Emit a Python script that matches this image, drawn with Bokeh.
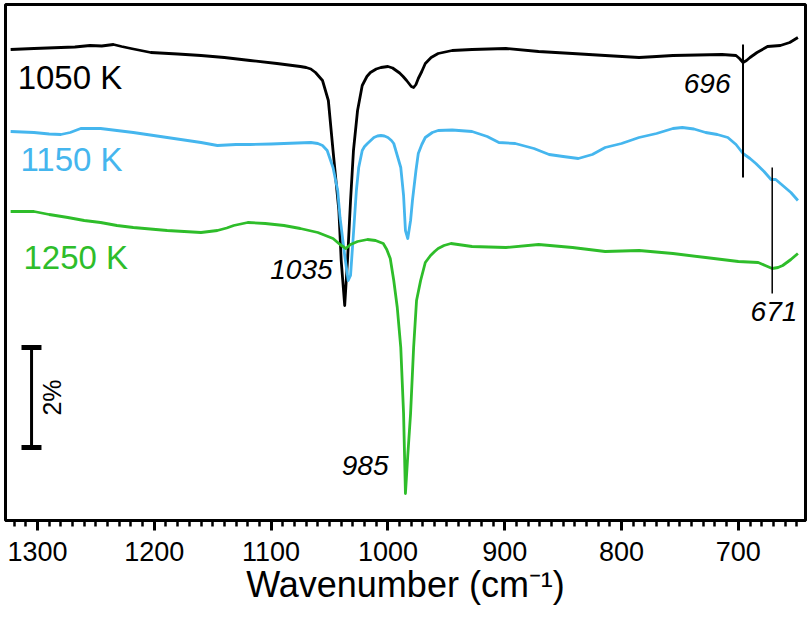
from bokeh.plotting import figure
from bokeh.models import Range1d, FixedTicker
from bokeh.core.properties import value
from bokeh.embed import file_html
from bokeh.resources import INLINE

# ---- data (offset transmittance, %) ----
wn_1050 = [1323, 1303, 1280, 1268, 1255, 1245, 1235, 1228, 1220, 1203, 1180, 1160, 1140, 1118,
           1095, 1075, 1070, 1066, 1062, 1056, 1051, 1047, 1042, 1040, 1037, 1034.6, 1032,
           1029.5, 1026, 1022, 1018, 1015, 1010, 1006, 1000, 996, 993, 990, 987, 984, 982,
           980, 978, 976, 974, 971, 968, 963, 957, 945, 928, 899, 871, 842, 814, 785, 770,
           756, 735, 714, 702, 699, 696, 693, 690, 684, 675, 664, 656, 649]
t_1050 = [9.42, 9.44, 9.46, 9.47, 9.50, 9.49, 9.52, 9.48, 9.44, 9.36, 9.33, 9.30, 9.26, 9.20,
          9.14, 9.08, 9.06, 9.03, 8.96, 8.80, 8.40, 7.40, 6.20, 5.20, 4.30, 5.20, 6.40,
          7.40, 8.20, 8.70, 8.88, 8.96, 9.03, 9.06, 9.08, 9.05, 9.00, 8.95, 8.88, 8.80, 8.74,
          8.68, 8.66, 8.72, 8.84, 8.98, 9.14, 9.26, 9.34, 9.40, 9.42, 9.44, 9.38, 9.34, 9.30,
          9.26, 9.28, 9.30, 9.31, 9.32, 9.30, 9.24, 9.16, 9.20, 9.26, 9.36, 9.48, 9.50, 9.56,
          9.66]

wn_1150 = [1323, 1303, 1290, 1280, 1272, 1263, 1246, 1232, 1218, 1189, 1160, 1146, 1130, 1118,
           1100, 1089, 1066, 1060, 1056, 1052, 1047, 1043, 1041, 1037, 1034, 1032, 1029.5,
           1027, 1025, 1022, 1020, 1017.5, 1012, 1009, 1006, 1003, 1000, 997, 995, 992, 989,
           986.6, 985, 983, 980.6, 979, 976, 974, 971, 968, 962, 957, 945, 928, 915, 905, 891,
           875, 862, 850, 837, 825, 814, 800, 785, 770, 756, 748, 738, 728, 718, 709, 702,
           696, 690, 685, 678, 672, 668, 662, 655, 649]
t_1150 = [7.78, 7.76, 7.73, 7.72, 7.76, 7.84, 7.84, 7.80, 7.76, 7.66, 7.56, 7.50, 7.52, 7.52,
          7.53, 7.54, 7.56, 7.54, 7.50, 7.40, 7.06, 6.60, 6.06, 5.30, 4.80, 4.90, 5.74,
          6.60, 7.06, 7.40, 7.48, 7.54, 7.66, 7.69, 7.70, 7.69, 7.66, 7.60, 7.54, 7.30, 7.06,
          6.50, 5.80, 5.64, 6.00, 6.40, 7.00, 7.34, 7.52, 7.66, 7.76, 7.80, 7.81, 7.78, 7.68,
          7.56, 7.54, 7.44, 7.32, 7.28, 7.24, 7.32, 7.46, 7.54, 7.66, 7.74, 7.84, 7.86, 7.83,
          7.76, 7.72, 7.66, 7.52, 7.34, 7.24, 7.14, 6.98, 6.82, 6.82, 6.70, 6.56, 6.40]

wn_1250 = [1323, 1303, 1290, 1274, 1260, 1246, 1232, 1218, 1189, 1160, 1146, 1138, 1132, 1126,
           1120, 1105, 1089, 1075, 1060, 1047, 1041, 1036, 1032, 1026, 1017.5, 1010.6, 1004,
           1001, 998, 995, 992, 989, 986.6, 985, 983, 980.6, 978, 975.5, 972, 968, 963.5, 960,
           957, 952, 946, 928, 899, 871, 842, 814, 785, 756, 728, 700, 683, 677, 671, 666,
           662, 655, 649]
t_1250 = [6.18, 6.18, 6.12, 6.06, 6.00, 5.96, 5.90, 5.86, 5.80, 5.76, 5.80, 5.85, 5.90, 5.93,
          5.96, 5.94, 5.90, 5.84, 5.76, 5.64, 5.52, 5.44, 5.52, 5.58, 5.62, 5.60, 5.54,
          5.42, 5.24, 4.80, 4.26, 3.46, 2.14, 0.54, 1.30, 2.14, 3.46, 4.40, 4.80, 5.16, 5.30,
          5.38, 5.44, 5.50, 5.54, 5.48, 5.46, 5.52, 5.46, 5.38, 5.40, 5.34, 5.26, 5.18, 5.16,
          5.10, 5.04, 5.06, 5.10, 5.22, 5.34]

series_labels = ["1050 K", "1150 K", "1250 K"]
series_colors = ["#000000", "#45B6EE", "#2EBD2A"]

peak_labels = ["1035", "985", "696", "671"]
x_ticks = [1300, 1200, 1100, 1000, 900, 800, 700]
scale_bar_pct = 2

FONT = "Liberation Sans"

p = figure(width=808, height=622, output_backend="svg", toolbar_location=None,
           x_range=Range1d(1327.4, 642.5), y_range=Range1d(0, 10.32),
           min_border_left=5, min_border_right=3, min_border_top=4, min_border_bottom=102)

p.grid.visible = False
p.yaxis.visible = False
p.outline_line_color = "black"
p.outline_line_width = 3
p.background_fill_color = "white"
p.border_fill_color = "white"

ax = p.xaxis[0]
ax.ticker = FixedTicker(ticks=x_ticks,
                        minor_ticks=list(range(1320, 640, -10)))
ax.axis_line_width = 3
ax.major_tick_line_width = 3
ax.minor_tick_line_width = 2.5
ax.major_tick_out = 10
ax.major_tick_in = 0
ax.minor_tick_out = 6
ax.minor_tick_in = 0
ax.major_label_text_font = FONT
ax.major_label_text_font_size = "27px"
ax.major_label_text_color = "black"
ax.major_label_standoff = 11
ax.axis_label = "Wavenumber (cm\u207B\u00B9)"
ax.axis_label_text_font = FONT
ax.axis_label_text_font_size = "36px"
ax.axis_label_text_font_style = "normal"
ax.axis_label_text_color = "black"
ax.axis_label_standoff = 0

for wn, t, c in [(wn_1050, t_1050, series_colors[0]),
                 (wn_1150, t_1150, series_colors[1]),
                 (wn_1250, t_1250, series_colors[2])]:
    p.line(wn, t, line_color=c, line_width=2.8, line_join="round")

# series labels
p.text(x=[1317, 1314.6, 1312], y=[8.87, 7.23, 5.27], text=series_labels,
       text_color=series_colors, text_font=value(FONT), text_font_size="33px",
       text_align="left", text_baseline="middle")

# peak marker lines
p.segment(x0=[696], y0=[9.52], x1=[696], y1=[6.86], line_color="black", line_width=2)
p.segment(x0=[671], y0=[7.06], x1=[671], y1=[4.54], line_color="black", line_width=1.5)

# peak labels
p.text(x=[1047.4, 999.5, 706.7, 669.5], y=[5.02, 1.10, 8.74, 4.18], text=peak_labels,
       text_color="black", text_font=value(FONT), text_font_size="28px",
       text_font_style="italic", text_align=["right", "right", "right", "center"],
       text_baseline="middle")

# scale bar (2 %)
bar_x = 1305.1
bar_y0 = 1.46
p.segment(x0=[bar_x], y0=[bar_y0], x1=[bar_x], y1=[bar_y0 + scale_bar_pct],
          line_color="black", line_width=3)
p.segment(x0=[1313.7, 1313.7], y0=[bar_y0, bar_y0 + scale_bar_pct],
          x1=[1296.6, 1296.6], y1=[bar_y0, bar_y0 + scale_bar_pct],
          line_color="black", line_width=5)
p.text(x=[1287.2], y=[bar_y0 + scale_bar_pct / 2], text=[f"{scale_bar_pct}%"],
       angle=1.5708, text_color="black", text_font=value(FONT), text_font_size="25px",
       text_align="center", text_baseline="middle")

open("out.html", "w").write(file_html(p, INLINE))
